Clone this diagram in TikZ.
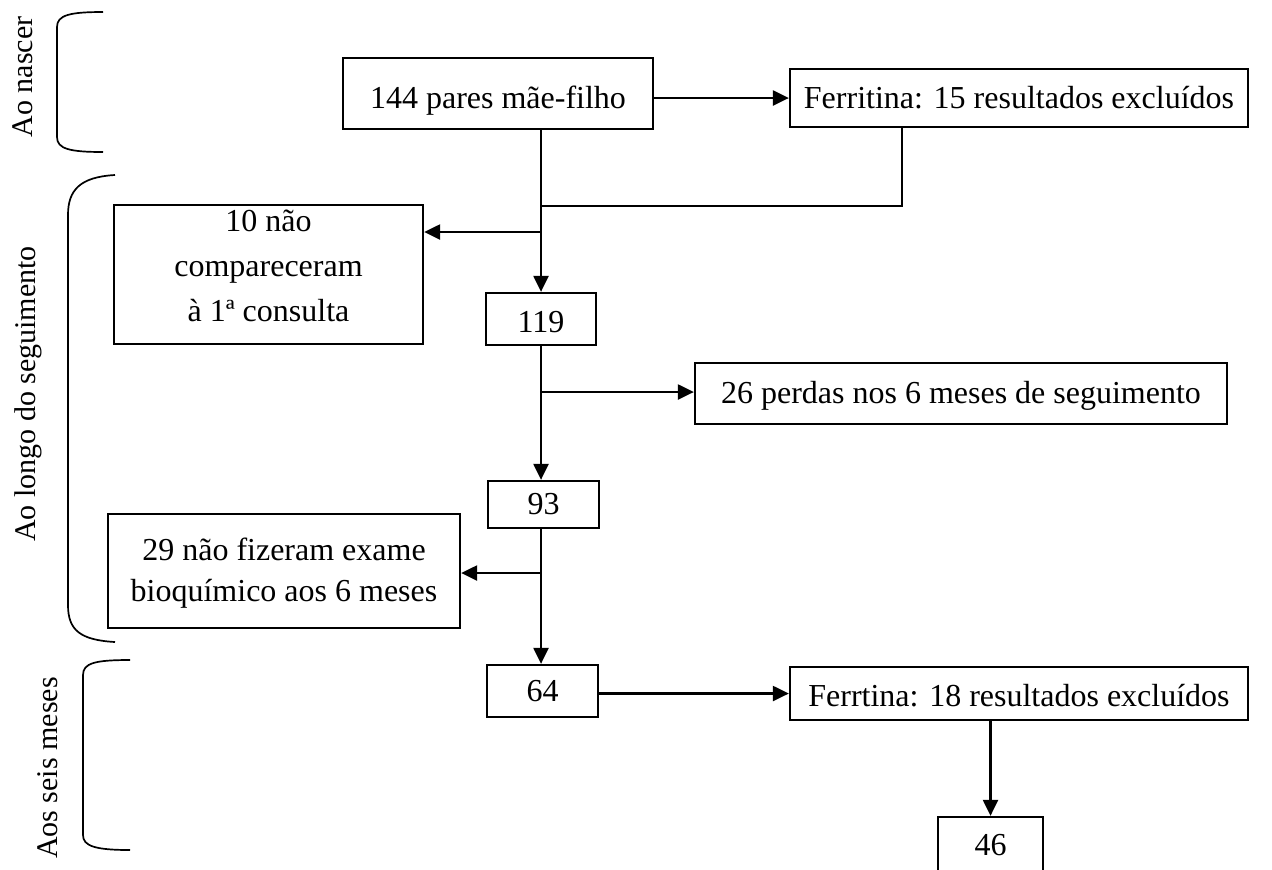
\documentclass[tikz,border=0pt]{standalone}
\usepackage{fontspec}
\setmainfont{Liberation Serif}
\usetikzlibrary{arrows.meta}
\newcommand{\lowerby}[2]{\raisebox{-#1}[\height][\depth]{#2}}
\begin{document}
\begin{tikzpicture}[x=0.5pt,y=-0.5pt,
  box/.style={draw,line width=1.15pt,rectangle,inner sep=0pt,align=center,
    font=\fontsize{16}{20.5}\selectfont},
  conn/.style={line width=1.15pt},
  arr/.style={line width=1.15pt,-{Triangle[length=8pt,width=7.5pt]}},
  brace/.style={line width=0.85pt},
  side/.style={rotate=90,font=\fontsize{15}{18}\selectfont}]
\useasboundingbox (0,0) rectangle (1272,869);
% boxes
\node[box,minimum width=155pt,minimum height=35.5pt] (A) at (498,93.5) {\lowerby{3.5pt}{144 pares mãe-filho}};
\node[box,minimum width=229pt,minimum height=29pt] (B) at (1019,98) {Ferritina: 15 resultados excluídos};
\node[box,minimum width=154.5pt,minimum height=69.5pt] (C) at (268.5,274.5)
  {\raisebox{3.5pt}[\height][\depth]{\def\arraystretch{1.1}\begin{tabular}{@{}c@{}}10 não\\compareceram\\à 1ª consulta\end{tabular}}};
\node[box,minimum width=55pt,minimum height=26pt] (D) at (541,319) {\lowerby{1.5pt}{119}};
\node[box,minimum width=266pt,minimum height=30.5pt] (F) at (961,393.5) {\lowerby{1pt}{26 perdas nos 6 meses de seguimento}};
\node[box,minimum width=55.5pt,minimum height=23.5pt] (E) at (543.5,504.5) {93};
\node[box,minimum width=176pt,minimum height=57pt] (H) at (284,571)
  {\lowerby{1pt}{\begin{tabular}{@{}c@{}}29 não fizeram exame\\bioquímico aos 6 meses\end{tabular}}};
\node[box,minimum width=55.5pt,minimum height=26pt] (G) at (542.5,691) {64};
\node[box,minimum width=229pt,minimum height=26.5pt] (I) at (1019,693.5) {\lowerby{1pt}{Ferrtina: 18 resultados excluídos}};
\node[box,minimum width=52.5pt,minimum height=28pt] (J) at (990.5,845) {46};
% junction coordinates
\coordinate (j1) at (541,206);
\coordinate (bd) at (902,206);
\coordinate (j2) at (541,232);
\coordinate (j3) at (541,392);
\coordinate (j4) at (541,573);
% connectors
\draw[arr] (A.east |- B.west) -- (B.west);
\draw[arr] (A.south -| D.north) -- (D.north);
\draw[conn] (bd |- B.south) -- (bd) -- (j1);
\draw[arr] (j2) -- (j2 -| C.east);
\draw[arr] (D.south -| j3) -- (E.north -| j3);
\draw[arr] (j3) -- (j3 -| F.west);
\draw[arr] (E.south -| j4) -- (G.north -| j4);
\draw[arr] (j4) -- (j4 -| H.east);
\draw[arr] (G.east |- I.west) -- (I.west);
\draw[arr] (J.north |- I.south) -- (J.north);
% braces
\draw[brace] (103,12) .. controls (70,12) and (57,15) .. (57,27) -- (57,137) .. controls (57,149) and (70,152) .. (103,152);
\draw[brace] (115,175) .. controls (80,177) and (68,190) .. (68,215) -- (68,605) .. controls (68,630) and (80,640) .. (115,642);
\draw[brace] (130,660) .. controls (95,660) and (83,663) .. (83,675) -- (83,835) .. controls (83,846) and (95,850) .. (130,850);
% side labels
\node[side] (l1) at (23,77) {Ao nascer};
\node[side] (l2) at (28,394) {Ao longo do seguimento};
\node[side] (l3) at (48,768) {Aos seis meses};
\end{tikzpicture}
\end{document}
